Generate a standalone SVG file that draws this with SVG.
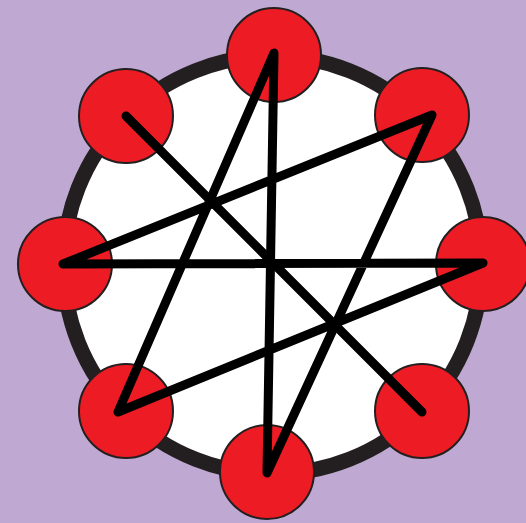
<svg xmlns="http://www.w3.org/2000/svg" width="526" height="523" viewBox="0 0 526 523">
<style>
.node{fill:#ed1c24;stroke:#231f20;stroke-width:2}
.edge{fill:none;stroke:#000;stroke-width:9;stroke-linecap:round;stroke-linejoin:round}
</style>
<rect width="526" height="523" fill="#bfa9d2"/>
<circle id="ring" cx="272.5" cy="265" r="209" fill="#fff" stroke="#231f20" stroke-width="15"/>
<g id="n-top"><circle class="node" cx="274" cy="55" r="47"/></g>
<g id="n-topright"><circle class="node" cx="422" cy="115" r="47"/></g>
<g id="n-right"><circle class="node" cx="483" cy="264" r="47"/></g>
<g id="n-bottomright"><circle class="node" cx="422" cy="411" r="47"/></g>
<g id="n-bottom"><circle class="node" cx="267" cy="472" r="47"/></g>
<g id="n-bottomleft"><circle class="node" cx="126" cy="411" r="47"/></g>
<g id="n-left"><circle class="node" cx="65" cy="264" r="47"/></g>
<g id="n-topleft"><circle class="node" cx="126" cy="116" r="47"/></g>
<g id="connectors">
<path class="edge" d="M63 264 L432 115 L267 473 L274 53 L118 412 L483 263 Z"/>
<path class="edge" d="M126 116 L422 412"/>
</g>
</svg>
